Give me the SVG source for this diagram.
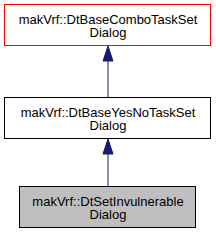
<svg xmlns="http://www.w3.org/2000/svg" width="216" height="235" viewBox="0 0 216 235">
<style>
.box{stroke-width:1}
text{font-family:"Liberation Sans",Arial,sans-serif;font-size:13px;fill:#000;text-anchor:middle}
.edge{stroke:#191970;stroke-width:1;fill:none}
.head{fill:#191970;stroke:#191970;stroke-width:1}
</style>
<rect width="216" height="235" fill="#fff"/>
<g id="node1">
<rect x="4.5" y="4.5" width="206" height="41" fill="#fff" stroke="#ff0000"/>
<text x="108" y="24">makVrf::DtBaseComboTaskSet</text>
<text x="108" y="37">Dialog</text>
</g>
<g id="node2">
<rect x="4.5" y="97.5" width="206" height="41" fill="#fff" stroke="#000"/>
<text x="108" y="117">makVrf::DtBaseYesNoTaskSet</text>
<text x="108" y="130">Dialog</text>
</g>
<g id="node3">
<rect x="19.5" y="186.5" width="176" height="41" fill="#bfbfbf" stroke="#000"/>
<text x="108" y="206">makVrf::DtSetInvulnerable</text>
<text x="108" y="219">Dialog</text>
</g>
<g id="edges">
<path class="edge" d="M108,97 L108,61"/>
<path class="head" d="M108,46 L103,61 L113,61 Z"/>
<path class="edge" d="M108,186 L108,154"/>
<path class="head" d="M108,139 L103,154 L113,154 Z"/>
</g>
</svg>
